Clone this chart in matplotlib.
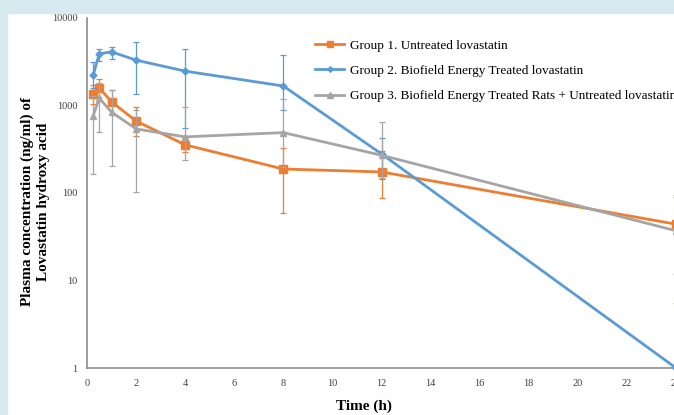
import matplotlib.pyplot as plt
from matplotlib.patches import Rectangle
from matplotlib.lines import Line2D

plt.rcParams['font.family'] = ['Liberation Serif', 'DejaVu Serif']

# time points (h)
time_h = [0.25, 0.5, 1, 2, 4, 8, 12, 24]

# Group 1. Untreated lovastatin
g1_mean = [1350, 1590, 1100, 665, 355, 188, 174, 44]
g1_low = [1050, 1250, 800, 450, 295, 59, 88, 5.5]
g1_high = [1700, 2000, 1500, 960, 420, 325, 300, 90]

# Group 2. Biofield Energy Treated lovastatin
g2_mean = [2230, 3900, 4100, 3300, 2470, 1670, 280, 1]
g2_low = [1600, 3250, 3400, 1350, 550, 900, 145, 1]
g2_high = [3150, 4450, 4650, 5350, 4450, 3800, 425, 1]

# Group 3. Biofield Energy Treated Rats + Untreated lovastatin
g3_mean = [760, 1210, 840, 540, 438, 490, 270, 37]
g3_low = [165, 500, 205, 103, 240, 200, 150, 12]
g3_high = [1300, 1820, 1500, 890, 960, 1180, 650, 95]

labels = ['Group 1. Untreated lovastatin',
          'Group 2. Biofield Energy Treated lovastatin',
          'Group 3. Biofield Energy Treated Rats + Untreated lovastatin']
colors = ['#ed7d31', '#5b9bd5', '#a5a5a5']
markers = ['s', 'D', '^']
msizes = [5.5, 3.5, 5]

fig = plt.figure(figsize=(6.74, 4.15), dpi=100)
fig.patch.set_facecolor('white')
# light blue frame on top and left
fig.patches.append(Rectangle((0, 1 - 13 / 415), 1, 13 / 415, transform=fig.transFigure,
                             color='#d6eaf0', zorder=0))
fig.patches.append(Rectangle((0, 0), 7 / 674, 1, transform=fig.transFigure,
                             color='#d6eaf0', zorder=0))

ax = fig.add_axes([87 / 674, 1 - 368 / 415, (676 - 87) / 674, 350 / 415])
ax.set_facecolor('none')

series = [(g1_mean, g1_low, g1_high), (g2_mean, g2_low, g2_high), (g3_mean, g3_low, g3_high)]
order = [2, 0, 1]
for i in order:
    m, lo, hi = series[i]
    yerr = [[a - b for a, b in zip(m, lo)], [b - a for a, b in zip(m, hi)]]
    ax.errorbar(time_h, m, yerr=yerr, color=colors[i], lw=2, marker=markers[i],
                ms=msizes[i], elinewidth=0.9, capsize=2.5, capthick=0.9,
                clip_on=False, zorder=3 + i)

ax.set_yscale('log')
ax.set_ylim(1, 10000)
ax.set_xlim(0, 24)
ax.set_xticks(range(0, 25, 2))
ax.set_yticks([1, 10, 100, 1000, 10000])
ax.set_yticklabels(['1', '10', '100', '1000', '10000'])
ax.minorticks_off()
ax.tick_params(length=0, labelsize=7.5, colors='#404040', pad=8)
ax.tick_params(axis='y', pad=7)
for s in ['top', 'right']:
    ax.spines[s].set_visible(False)
for s in ['left', 'bottom']:
    ax.spines[s].set_color('#8c8c8c')
    ax.spines[s].set_linewidth(1.2)

ax.set_xlabel('Time (h)', fontsize=11, fontweight='bold')
ax.xaxis.set_label_coords(0.47, -0.09)
ax.set_ylabel('Plasma concentration (ng/ml) of\nLovastatin hydroxy acid',
              fontsize=11, fontweight='bold', linespacing=1.3)
ax.yaxis.set_label_coords(-0.062, 0.475)

handles = [Line2D([], [], color=colors[i], lw=2, marker=markers[i], ms=msizes[i] * 0.8)
           for i in range(3)]
fig.legend(handles, labels, loc='upper left', bbox_to_anchor=(310 / 674, 1 - 34 / 415),
           frameon=False, fontsize=9.5, handlelength=2.2, labelspacing=1.0,
           handletextpad=0.4, borderaxespad=0)

fig.savefig('out.png', dpi=100)
